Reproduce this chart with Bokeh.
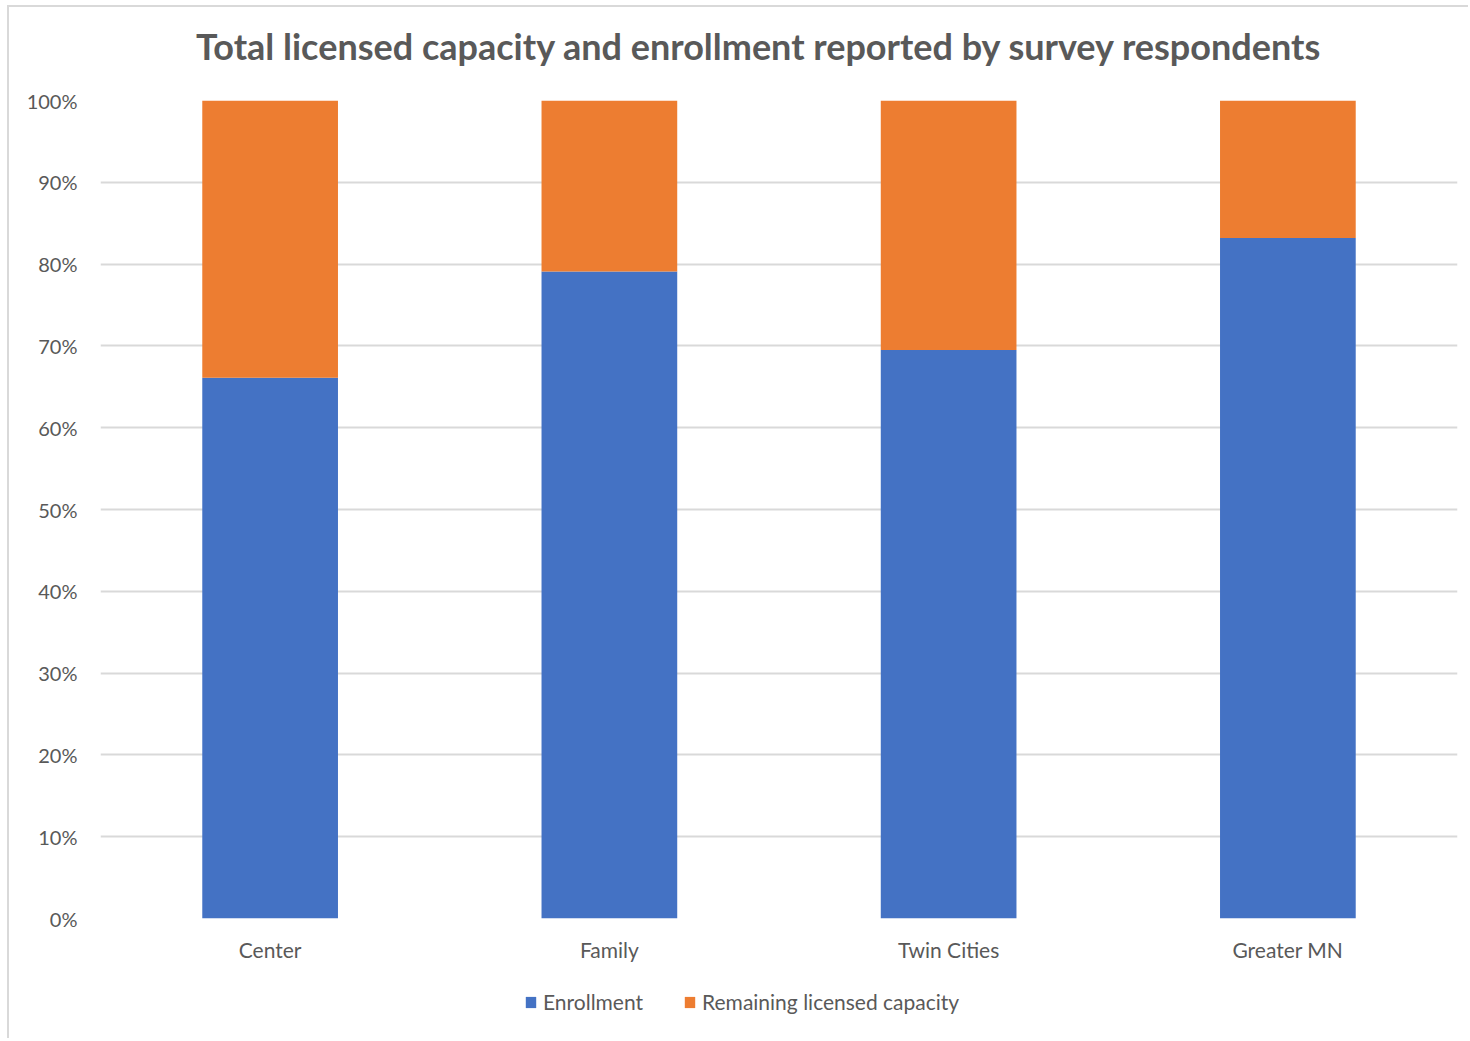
from bokeh.plotting import figure
from bokeh.layouts import column
from bokeh.models import (FactorRange, NumeralTickFormatter, Legend, LegendItem, FixedTicker,
                          ColumnDataSource, Label)
from bokeh.embed import file_html
from bokeh.resources import INLINE

categories = ["Center", "Family", "Twin Cities", "Greater MN"]
enrollment = [0.661, 0.791, 0.695, 0.832]
remaining = [round(1 - e, 3) for e in enrollment]
series = ["Enrollment", "Remaining licensed capacity"]
colors = ["#4472C4", "#ED7D31"]
y_ticks = [i / 10 for i in range(11)]
title_text = "Total licensed capacity and enrollment reported by survey respondents"

FONT = "Lato"
GRAY = "#595959"
BORDER = "2px solid #d9d9d9"

source = ColumnDataSource(data=dict(cat=categories, Enrollment=enrollment,
                                    **{"Remaining licensed capacity": remaining}))

# ---- title strip (frame aligned with main chart frame by the column layout) ----
tf = figure(width=1461, height=80, x_range=(0, 1), y_range=(0, 1),
            x_axis_type=None, y_axis_type=None, min_border=0,
            output_backend="svg", toolbar_location=None)
tf.grid.visible = False
tf.outline_line_color = None
tf.margin = (5, 0, 0, 7)
tf.styles = {"border-top": BORDER, "border-left": BORDER}
tf.add_layout(Label(x=659, y=42, x_units="screen", y_units="screen", text=title_text,
                    text_font=FONT, text_font_style="bold", text_font_size="36px",
                    text_color=GRAY, text_align="center", text_baseline="middle"))

# ---- main chart ----
p = figure(x_range=FactorRange(*categories, range_padding=0), y_range=(0, 1),
           frame_width=1355, frame_height=818,
           output_backend="svg", toolbar_location=None,
           min_border_left=91, min_border_right=13, min_border_top=15, min_border_bottom=50)
p.margin = (0, 0, 0, 7)
p.styles = {"border-left": BORDER}

p.vbar_stack(series, x="cat", width=0.4, source=source, color=colors, line_color=None)

p.yaxis.ticker = FixedTicker(ticks=y_ticks)
p.yaxis.formatter = NumeralTickFormatter(format="0%")
for ax in (p.xaxis, p.yaxis):
    ax.axis_line_color = None
    ax.major_tick_line_color = None
    ax.minor_tick_line_color = None
    ax.major_tick_out = 0
    ax.major_tick_in = 0
    ax.minor_tick_out = 0
    ax.axis_label_standoff = 0
    ax.major_label_text_font = FONT
    ax.major_label_text_font_size = "20px"
    ax.major_label_text_color = GRAY
p.xaxis.major_label_text_font_size = "21px"
p.yaxis.major_label_standoff = 23
p.xaxis.major_label_standoff = 18
p.xgrid.grid_line_color = None
p.ygrid.grid_line_color = "#d9d9d9"
p.ygrid.grid_line_width = 2
p.outline_line_color = None

# ---- legend strip: same stacked bars, scrolled out of view, used only for swatches ----
lf = figure(width=1461, height=70, x_range=FactorRange(*categories, range_padding=0),
            y_range=(2, 3), x_axis_type=None, y_axis_type=None, min_border=0,
            output_backend="svg", toolbar_location=None)
lf.grid.visible = False
lf.outline_line_color = None
lf.margin = (0, 0, 0, 7)
lf.styles = {"border-left": BORDER}
swatches = lf.vbar_stack(series, x="cat", width=0.4, source=source, color=colors, line_color=None)
legend = Legend(items=[LegendItem(label=s, renderers=[r]) for s, r in zip(series, swatches)],
                orientation="horizontal", location=(424, 24),
                glyph_width=13, glyph_height=14, label_text_font=FONT,
                label_text_font_size="21px", label_text_color=GRAY,
                border_line_color=None, background_fill_alpha=0,
                spacing=40, label_standoff=6, margin=0, padding=0)
lf.add_layout(legend, "center")

layout = column(tf, p, lf, spacing=0)
open("out.html", "w").write(file_html(layout, INLINE))
